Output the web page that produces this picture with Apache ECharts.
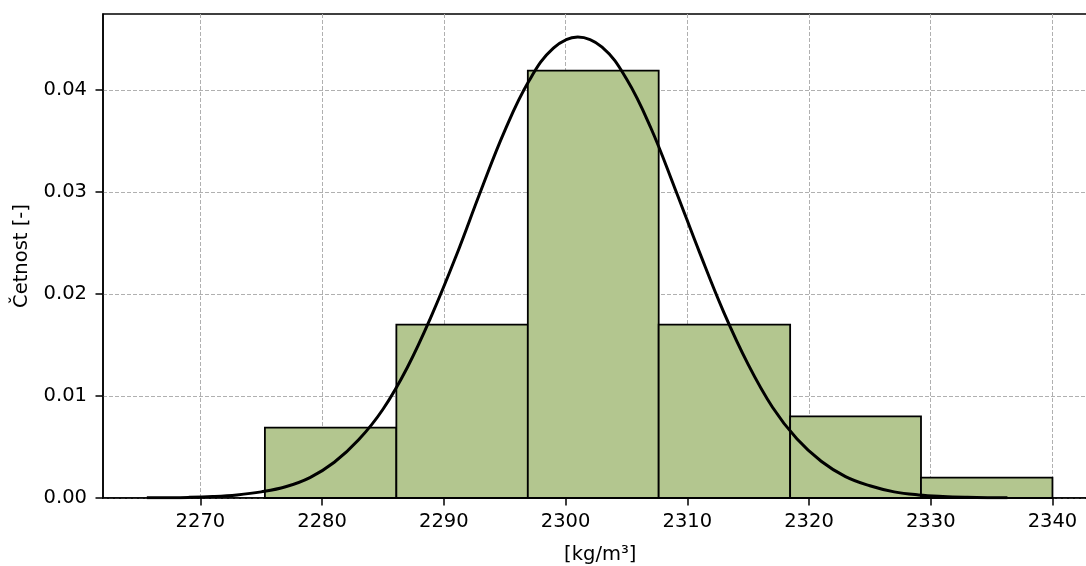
<!DOCTYPE html>
<html>
<head>
<meta charset="utf-8">
<script src="https://cdn.jsdelivr.net/npm/echarts@6/dist/echarts.min.js"></script>
<style>
html,body{margin:0;padding:0;background:#fff;overflow:hidden;}
#chart{width:1086px;height:566px;}
</style>
</head>
<body>
<div id="chart"></div>
<script>
// Histogram bin edges (kg/m3) and densities
const binEdges = [2275.3, 2286.1, 2296.9, 2307.65, 2318.45, 2329.2, 2340.0];
const binHeights = [0.0069, 0.0170, 0.0419, 0.0170, 0.0080, 0.0020];

// Fitted density curve
const curveX = [2265.6, 2267, 2269, 2271, 2273, 2275, 2277, 2279, 2281, 2283, 2285, 2287, 2289, 2291, 2293, 2295, 2297, 2299, 2301, 2303, 2305, 2307, 2309, 2311, 2313, 2315, 2317, 2319, 2321, 2323, 2325, 2327, 2329, 2331, 2333, 2335, 2336.3];
const curveY = [0.00002, 0.00003, 0.00006, 0.00014, 0.0003, 0.0006, 0.0011, 0.0020, 0.0035, 0.0057, 0.0087, 0.0128, 0.0179, 0.0237, 0.0300, 0.0360, 0.0409, 0.0441, 0.0452, 0.0442, 0.0411, 0.0363, 0.0303, 0.0241, 0.0182, 0.0131, 0.0089, 0.0058, 0.0036, 0.0021, 0.0012, 0.0006, 0.0003, 0.00015, 0.00007, 0.00003, 0.00002];

// Tick labels
const xTicks = [2270, 2280, 2290, 2300, 2310, 2320, 2330, 2340];
const yTicks = [0, 0.01, 0.02, 0.03, 0.04];

const xLabel = '[kg/m³]';
const yLabel = 'Četnost [-]';

const barData = binHeights.map((h, i) => [binEdges[i], binEdges[i + 1], h]);
const lineData = curveX.map((x, i) => [x, curveY[i]]);

const FONT = 'DejaVu Sans';
const FS = 19.5;
const chart = echarts.init(document.getElementById('chart'), null, {renderer: 'canvas'});
chart.setOption({
  animation: false,
  backgroundColor: '#fff',
  grid: {
    left: 103, width: 994.5, top: 14, bottom: 68,
    outerBoundsMode: 'none', containLabel: false,
    show: true, borderColor: '#000', borderWidth: 1.5, backgroundColor: 'transparent'
  },
  xAxis: {
    type: 'value',
    min: 2262.0,
    max: 2343.7,
    name: xLabel,
    nameLocation: 'middle',
    nameGap: 47,
    nameTextStyle: {fontFamily: FONT, fontSize: FS, color: '#000'},
    axisLine: {show: true, onZero: false, lineStyle: {color: '#000', width: 1.5}},
    axisTick: {show: true, length: 7.5, lineStyle: {color: '#000', width: 1.5}, customValues: xTicks},
    axisLabel: {fontFamily: FONT, fontSize: FS, color: '#000', margin: 14, customValues: xTicks,
      formatter: v => String(Math.round(v))},
    splitLine: {show: true, lineStyle: {color: '#b0b0b0', width: 1, type: [4, 2]}}
  },
  yAxis: {
    type: 'value',
    min: 0,
    max: 0.04745,
    name: yLabel,
    nameLocation: 'middle',
    nameGap: 71,
    nameTextStyle: {fontFamily: FONT, fontSize: FS, color: '#000'},
    axisLine: {show: true, lineStyle: {color: '#000', width: 1.5}},
    axisTick: {show: true, length: 7.5, lineStyle: {color: '#000', width: 1.5}, customValues: yTicks},
    axisLabel: {fontFamily: FONT, fontSize: FS, color: '#000', margin: 16, customValues: yTicks,
      formatter: v => v.toFixed(2)},
    splitLine: {show: true, lineStyle: {color: '#b0b0b0', width: 1, type: [4, 2]}}
  },
  series: [
    {
      type: 'custom',
      z: 2,
      data: barData,
      encode: {x: [0, 1], y: 2},
      renderItem: function (params, api) {
        const p0 = api.coord([api.value(0), 0]);
        const p1 = api.coord([api.value(1), api.value(2)]);
        return {
          type: 'rect',
          shape: {x: p0[0], y: p1[1], width: p1[0] - p0[0], height: p0[1] - p1[1]},
          style: {fill: '#b3c68f', stroke: '#000', lineWidth: 1.8}
        };
      }
    },
    {
      type: 'line',
      z: 3,
      data: lineData,
      showSymbol: false,
      smooth: 0.4,
      lineStyle: {color: '#000', width: 3}
    }
  ]
});
</script>
</body>
</html>
